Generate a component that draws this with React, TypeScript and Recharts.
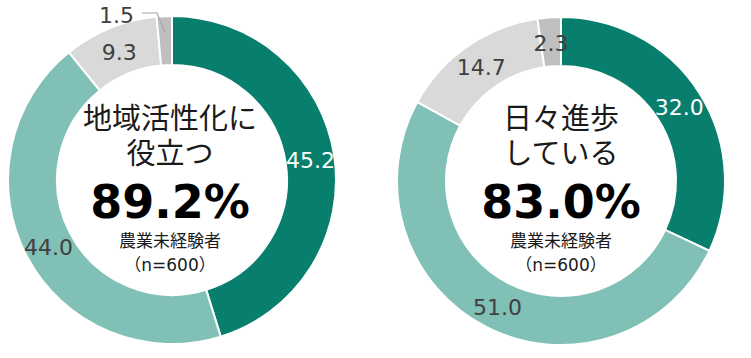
import { PieChart, Pie, Cell } from 'recharts';

// answer categories (not printed in the chart)
const categories = ['そう思う', 'ややそう思う', 'あまりそう思わない', 'そう思わない'];
const regionValues = [45.2, 44.0, 9.3, 1.5];
const progressValues = [32.0, 51.0, 14.7, 2.3];
const sliceColors = ['#087e6d', '#80c0b6', '#d9d9d9', '#bfbfbf'];
const labelColors = ['#ffffff', '#404040', '#404040', '#404040'];

const regionTitle = ['地域活性化に', '役立つ'];
const progressTitle = ['日々進歩', 'している'];
const regionTotal = '89.2%';
const progressTotal = '83.0%';
const sampleGroup = '農業未経験者';
const sampleSize = 'n=600';

const RADIAN = Math.PI / 180;
const W = 751;
const H = 358;

const toRows = (values: number[]) => categories.map((name, i) => ({ name, value: values[i] }));

function SliceLabel(props: any) {
  const { cx, cy, midAngle, innerRadius, outerRadius, value, index } = props;
  const numFont = '"DejaVu Sans", sans-serif';
  if (value < 2) {
    // tiny slice: label sits outside with a leader line
    const r0 = outerRadius - 16;
    const px = cx + r0 * Math.cos(-midAngle * RADIAN);
    const py = cy + r0 * Math.sin(-midAngle * RADIAN);
    const ey = cy - outerRadius - 3;
    const ex = px - 8;
    const tx = ex - 15;
    return (
      <g>
        <polyline points={`${px},${py} ${ex},${ey} ${tx},${ey}`} fill="none" stroke="#a6a6a6" strokeWidth={1.2} />
        <text x={tx - 8} y={ey + 2} textAnchor="end" dominantBaseline="central" fill="#404040" fontSize={22} fontFamily={numFont}>
          {value.toFixed(1)}
        </text>
      </g>
    );
  }
  const r = (innerRadius + outerRadius) / 2 + 0.5;
  const x = cx + r * Math.cos(-midAngle * RADIAN);
  const y = cy + r * Math.sin(-midAngle * RADIAN);
  return (
    <text x={x} y={y + 2} textAnchor="middle" dominantBaseline="central" fill={labelColors[index]} fontSize={22} fontFamily={numFont}>
      {value.toFixed(1)}
    </text>
  );
}

function CenterText({ x, title, total }: { x: number; title: string[]; total: string }) {
  const jp = '"Noto Sans CJK JP", sans-serif';
  const dv = '"DejaVu Sans", sans-serif';
  return (
    <g textAnchor="middle">
      <text x={x} y={129} fontSize={29} fontFamily={jp} fill="#1a1a1a">
        <tspan x={x}>{title[0]}</tspan>
        <tspan x={x} dy={35}>{title[1]}</tspan>
      </text>
      <text x={x} y={218} fontSize={46} fontWeight={700} fontFamily={dv} fill="#000000">{total}</text>
      <text x={x} y={247} fontSize={17} fontFamily={jp} fill="#1a1a1a">
        <tspan x={x}>{sampleGroup}</tspan>
        <tspan x={x} dy={24}>
          （<tspan fontFamily={dv}>{sampleSize}</tspan>）
        </tspan>
      </text>
    </g>
  );
}

export default function App() {
  return (
    <div style={{ position: 'fixed', left: 0, top: 0, width: W, height: H, background: '#ffffff' }}>
      <PieChart width={W} height={H} margin={{ top: 0, right: 0, bottom: 0, left: 0 }}>
        <Pie
          data={toRows(regionValues)}
          dataKey="value"
          cx={172}
          cy={180}
          innerRadius={115}
          outerRadius={164}
          startAngle={90}
          endAngle={-270}
          stroke="#ffffff"
          strokeWidth={2}
          label={SliceLabel}
          labelLine={false}
          isAnimationActive={false}
        >
          {regionValues.map((_, i) => (
            <Cell key={i} fill={sliceColors[i]} />
          ))}
        </Pie>
        <Pie
          data={toRows(progressValues)}
          dataKey="value"
          cx={561}
          cy={181}
          innerRadius={115}
          outerRadius={164}
          startAngle={90}
          endAngle={-270}
          stroke="#ffffff"
          strokeWidth={2}
          label={SliceLabel}
          labelLine={false}
          isAnimationActive={false}
        >
          {progressValues.map((_, i) => (
            <Cell key={i} fill={sliceColors[i]} />
          ))}
        </Pie>
      </PieChart>
      <svg width={W} height={H} style={{ position: 'absolute', left: 0, top: 0, pointerEvents: 'none' }}>
        <CenterText x={170} title={regionTitle} total={regionTotal} />
        <CenterText x={561} title={progressTitle} total={progressTotal} />
      </svg>
    </div>
  );
}
